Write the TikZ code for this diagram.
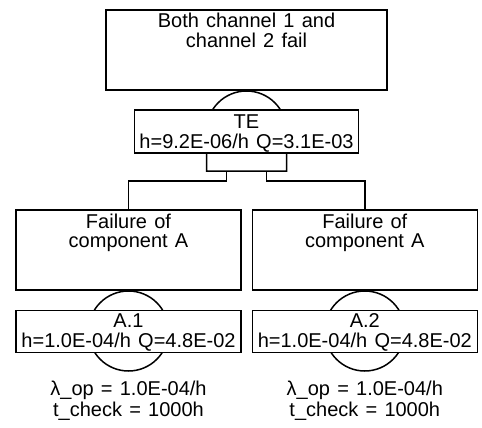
\documentclass[tikz,border=0pt]{standalone}
\usepackage{fontspec}
\setmainfont[WordSpace={1.3}]{Liberation Sans}
\begin{document}
\begin{tikzpicture}[x=1pt,y=-1pt,line width=1.5pt,
  box/.style={draw,fill=white,minimum width=225pt,minimum height=80pt,inner sep=0pt,outer sep=0pt},
  evbox/.style={box,minimum height=42pt},
  lbl/.style={anchor=base,inner sep=0pt,font=\fontsize{20}{20}\selectfont}]
\useasboundingbox (0,0) rectangle (482,428);
% top event
\node[box,minimum width=281pt] (top) at (246.5,50) {};
\node[lbl] (topa) at (246.5,27.5) {Both channel 1 and};
\node[lbl] (topb) at (246.5,47.5) {channel 2 fail};
% AND gate
\draw[fill=white] (206.5,171) -- (206.5,131) arc[start angle=180,end angle=360,radius=40] -- (286.5,171) -- cycle;
\coordinate (gateL) at (226.5,171);
\coordinate (gateR) at (266.5,171);
\node[evbox,minimum width=224pt,minimum height=43pt] (te) at (246.5,131.5) {};
\node[lbl] (tea) at (246.5,128) {TE};
\node[lbl] (teb) at (246.5,148) {h=9.2E-06/h Q=3.1E-03};
% children
\node[box] (f1) at (128.5,250) {};
\node[box] (f2) at (364.8,250) {};
\draw (gateL) -- ++(0,10) -| (f1.north);
\draw (gateR) -- ++(0,10) -| (f2.north);
\node[lbl] (f1a) at (128.5,228.5) {Failure of};
\node[lbl] (f1b) at (128.5,247.5) {component A};
\node[lbl] (f2a) at (364.8,228.5) {Failure of};
\node[lbl] (f2b) at (364.8,247.5) {component A};
% basic events
\draw[fill=white] (128.5,331) circle[radius=40];
\draw[fill=white] (364.8,331) circle[radius=40];
\node[evbox] (a1) at (128.5,331.7) {};
\node[evbox] (a2) at (364.8,331.7) {};
\node[lbl] (a1a) at (128.5,327.7) {A.1};
\node[lbl] (a1b) at (128.5,347.7) {h=1.0E-04/h Q=4.8E-02};
\node[lbl] (a2a) at (364.8,327.7) {A.2};
\node[lbl] (a2b) at (364.8,347.7) {h=1.0E-04/h Q=4.8E-02};
\node[lbl] (p1a) at (128.5,395) {λ\_op = 1.0E-04/h};
\node[lbl] (p1b) at (128.5,416) {t\_check = 1000h};
\node[lbl] (p2a) at (364.8,395) {λ\_op = 1.0E-04/h};
\node[lbl] (p2b) at (364.8,416) {t\_check = 1000h};
\end{tikzpicture}
\end{document}
